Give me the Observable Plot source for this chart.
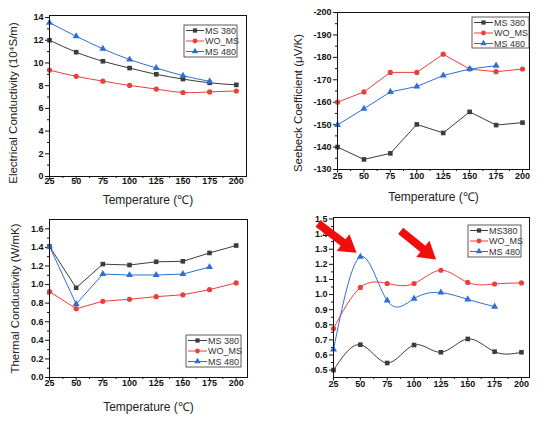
<!DOCTYPE html>
<html><head><meta charset="utf-8">
<script src="https://cdn.jsdelivr.net/npm/d3@7"></script>
<script src="https://cdn.jsdelivr.net/npm/@observablehq/plot@0.6"></script>
<style>
body{margin:0;background:#fff;}
#wrap{position:relative;width:543px;height:422px;overflow:hidden;font-family:"Liberation Sans",Arial,sans-serif;}
#wrap svg{position:absolute;overflow:visible;}
</style></head><body><div id="wrap"></div>
<script>
// ---------- data ----------
const temps = [25, 50, 75, 100, 125, 150, 175, 200];
const temps480 = [25, 50, 75, 100, 125, 150, 175];
const xMinorTicks = [37.5, 62.5, 87.5, 112.5, 137.5, 162.5, 187.5];
const namesA = ["MS 380", "WO_MS", "MS 480"];
const namesB = ["MS380", "WO_MS", "MS 480"];
const colors = ["#3c3c3c", "#e8403b", "#2d6fd6"];
const symbols = ["square", "circle", "triangle"];

// Electrical conductivity (10^4 S/m)
const ecMS380 = [12.0, 10.95, 10.15, 9.55, 9.0, 8.58, 8.25, 8.07];
const ecWO = [9.37, 8.82, 8.4, 8.02, 7.7, 7.4, 7.45, 7.53];
const ec480 = [13.55, 12.35, 11.25, 10.3, 9.56, 8.88, 8.38];
const ecTicks = [0, 2, 4, 6, 8, 10, 12, 14];
const ecMinor = [1, 3, 5, 7, 9, 11, 13];

// Seebeck coefficient (µV/K)
const sbMS380 = [-140, -134.5, -137.2, -150.1, -146.3, -155.7, -149.8, -150.9];
const sbWO = [-160, -164.6, -173.3, -173.3, -181.4, -174.8, -173.6, -174.8];
const sb480 = [-149.9, -157.1, -164.6, -167, -171.9, -174.8, -176.3];
const sbTicks = [-130, -140, -150, -160, -170, -180, -190, -200];
const sbMinor = [-135, -145, -155, -165, -175, -185, -195];

// Thermal conductivity (W/mK)
const tcMS380 = [1.41, 0.965, 1.22, 1.21, 1.245, 1.25, 1.34, 1.42];
const tcWO = [0.925, 0.74, 0.82, 0.842, 0.87, 0.89, 0.945, 1.018];
const tc480 = [1.41, 0.79, 1.113, 1.103, 1.103, 1.113, 1.188];
const tcTicks = [0, 0.2, 0.4, 0.6, 0.8, 1.0, 1.2, 1.4, 1.6];
const tcMinor = [0.1, 0.3, 0.5, 0.7, 0.9, 1.1, 1.3, 1.5];

// Fourth panel
const pfMS380 = [0.5, 0.668, 0.547, 0.666, 0.618, 0.706, 0.622, 0.618];
const pfWO = [0.775, 1.047, 1.073, 1.073, 1.161, 1.08, 1.07, 1.077];
const pf480 = [0.637, 1.25, 0.96, 0.973, 1.013, 0.968, 0.92];
const pfTicks = [0.5, 0.6, 0.7, 0.8, 0.9, 1.0, 1.1, 1.2, 1.3, 1.4, 1.5];
const pfMinor = [0.55, 0.65, 0.75, 0.85, 0.95, 1.05, 1.15, 1.25, 1.35, 1.45];
const arrows4 = [
  {x1: 11, y1: 1.467, x2: 47, y2: 1.273},
  {x1: 88, y1: 1.418, x2: 121, y2: 1.228}
];

function rows(xs, ys, name) { return xs.map((x, i) => ({x, y: ys[i], name})); }

const wrap = document.getElementById("wrap");

function panel(cfg) {
  const series = cfg.series.map((s, i) => ({data: rows(s.xs, s.ys, s.name), color: colors[i], symbol: symbols[i], name: s.name}));
  const marks = [
    Plot.axisY(cfg.yTicks, {tickSize: 4, tickPadding: 2, tickFormat: cfg.yFormat, fontWeight: "bold", fontSize: 9, label: null, stroke: "#111", fill: "#111"}),
    Plot.axisY(cfg.yMinor, {tickSize: 2, text: null, label: null, stroke: "#111"}),
    Plot.axisX(temps, {tickSize: 3.5, tickPadding: cfg.xPad, fontWeight: "bold", fontSize: 9, label: null, stroke: "#111", fill: "#111"}),
    Plot.axisX(xMinorTicks, {tickSize: 2, text: null, label: null, stroke: "#111"}),
  ];
  for (const s of series) {
    marks.push(Plot.line(s.data, {x: "x", y: "y", stroke: s.color, strokeWidth: 1, curve: cfg.curve}));
  }
  for (const s of series) {
    marks.push(Plot.dot(s.data, {x: "x", y: "y", symbol: s.symbol, r: 2.6, fill: s.color, stroke: "none"}));
  }
  marks.push(Plot.frame({stroke: "#111", strokeWidth: 1}));
  if (cfg.yTitle) marks.push(Plot.text([cfg.yTitle], {text: d => d, frameAnchor: "left", textAnchor: "middle", lineAnchor: "middle", rotate: -90, dx: cfg.yTitleDx, dy: cfg.yTitleDy || 0, fontSize: 11.5, fill: "#222"}));
  if (cfg.xTitle) marks.push(Plot.text([cfg.xTitle], {text: d => d, frameAnchor: "bottom", textAnchor: "middle", lineAnchor: "middle", dy: cfg.xTitleDy, fontSize: 12, fill: "#222"}));
  const svg = Plot.plot({
    width: cfg.width, height: cfg.height,
    marginLeft: cfg.m[0], marginRight: cfg.m[1], marginTop: cfg.m[2], marginBottom: cfg.m[3],
    style: {fontFamily: '"Liberation Sans", Arial, sans-serif', background: "transparent", overflow: "visible"},
    x: {domain: cfg.xDomain},
    y: {domain: cfg.yDomain},
    marks
  });
  svg.style.left = cfg.left + "px";
  svg.style.top = cfg.top + "px";
  // legend
  const L = cfg.legend;
  const g = d3.select(svg).append("g").attr("text-anchor", "start");
  g.append("rect").attr("x", L.x).attr("y", L.y).attr("width", L.w).attr("height", L.h)
    .attr("fill", "#fff").attr("stroke", "#333").attr("stroke-width", 0.8);
  series.forEach((s, i) => {
    const yy = L.y + 5.5 + i * 10.5;
    g.append("line").attr("x1", L.x + 2).attr("x2", L.x + 2 + L.sw).attr("y1", yy).attr("y2", yy)
      .attr("stroke", s.color).attr("stroke-width", 1);
    const sym = {square: d3.symbolSquare, circle: d3.symbolCircle, triangle: d3.symbolTriangle}[s.symbol];
    g.append("path").attr("d", d3.symbol(sym, 18)())
      .attr("transform", `translate(${L.x + 2 + L.sw / 2},${yy})`).attr("fill", s.color);
    g.append("text").attr("x", L.x + 3 + L.sw).attr("y", yy).attr("dy", "0.35em")
      .attr("text-anchor", "start").attr("font-size", 9).attr("fill", "#333").text(s.name);
  });
  wrap.appendChild(svg);
  return svg;
}

panel({
  left: 0, top: 0, width: 270, height: 210, m: [49, 24, 15, 34],
  xDomain: [25, 209.5], yDomain: [0, 14.18], yTicks: ecTicks, yMinor: ecMinor, yFormat: d => String(d),
  curve: "natural", xPad: -2.5,
  series: [{xs: temps, ys: ecMS380, name: namesA[0]}, {xs: temps, ys: ecWO, name: namesA[1]}, {xs: temps480, ys: ec480, name: namesA[2]}],
  yTitle: "Electrical Conductivity (10\u2074S/m)", yTitleDx: -36, yTitleDy: 7,
  xTitle: "Temperature (\u2103)", xTitleDy: 24,
  legend: {x: 184, y: 25, w: 53, h: 32, sw: 18}
});

panel({
  left: 270, top: 0, width: 273, height: 210, m: [67, 14, 12, 41],
  xDomain: [25, 206.6], yDomain: [-130, -200], yTicks: sbTicks, yMinor: sbMinor, yFormat: d => String(d),
  curve: "linear", xPad: -0.5,
  series: [{xs: temps, ys: sbMS380, name: namesA[0]}, {xs: temps, ys: sbWO, name: namesA[1]}, {xs: temps480, ys: sb480, name: namesA[2]}],
  yTitle: "Seebeck Coefficient (\u03bcV/K)", yTitleDx: -39, yTitleDy: 12,
  xTitle: "Temperature (\u2103)", xTitleDy: 28,
  legend: {x: 202, y: 17, w: 57, h: 31, sw: 19}
});

panel({
  left: 0, top: 210, width: 270, height: 212, m: [49, 23, 9, 45],
  xDomain: [25, 210.6], yDomain: [0, 1.7], yTicks: tcTicks, yMinor: tcMinor, yFormat: d => d.toFixed(1),
  curve: "linear", xPad: -1,
  series: [{xs: temps, ys: tcMS380, name: namesA[0]}, {xs: temps, ys: tcWO, name: namesA[1]}, {xs: temps480, ys: tc480, name: namesA[2]}],
  yTitle: "Thermal Conductivity (W/mK)", yTitleDx: -34, yTitleDy: 0,
  xTitle: "Temperature (\u2103)", xTitleDy: 30,
  legend: {x: 186, y: 125, w: 55, h: 32, sw: 19}
});

const p4 = panel({
  left: 270, top: 210, width: 273, height: 212, m: [63, 14, 7, 45],
  xDomain: [25, 207.5], yDomain: [0.451, 1.51], yTicks: pfTicks, yMinor: pfMinor, yFormat: d => d.toFixed(1),
  curve: "natural", xPad: -0.5,
  series: [{xs: temps, ys: pfMS380, name: namesB[0]}, {xs: temps, ys: pfWO, name: namesB[1]}, {xs: temps480, ys: pf480, name: namesB[2]}],
  legend: {x: 198, y: 15, w: 53, h: 32, sw: 18}
});

// red arrows on panel 4, positioned through the plot's scales
{
  const sx = p4.scale("x"), sy = p4.scale("y");
  const g = d3.select(p4).append("g");
  for (const a of arrows4) {
    const tx = sx.apply(a.x1), ty = sy.apply(a.y1), px = sx.apply(a.x2), py = sy.apply(a.y2);
    const len = Math.hypot(px - tx, py - ty);
    const ux = (px - tx) / len, uy = (py - ty) / len, nx = -uy, ny = ux;
    const w = 4, hw = 10.5, hl = 17;
    const hx = px - ux * hl, hy = py - uy * hl;
    const pts = [
      [tx + nx * w, ty + ny * w], [hx + nx * w, hy + ny * w], [hx + nx * hw, hy + ny * hw],
      [px, py], [hx - nx * hw, hy - ny * hw], [hx - nx * w, hy - ny * w], [tx - nx * w, ty - ny * w]
    ];
    g.append("path").attr("d", "M" + pts.map(p => p.join(",")).join("L") + "Z").attr("fill", "#f20d0d");
  }
}
</script></body></html>
